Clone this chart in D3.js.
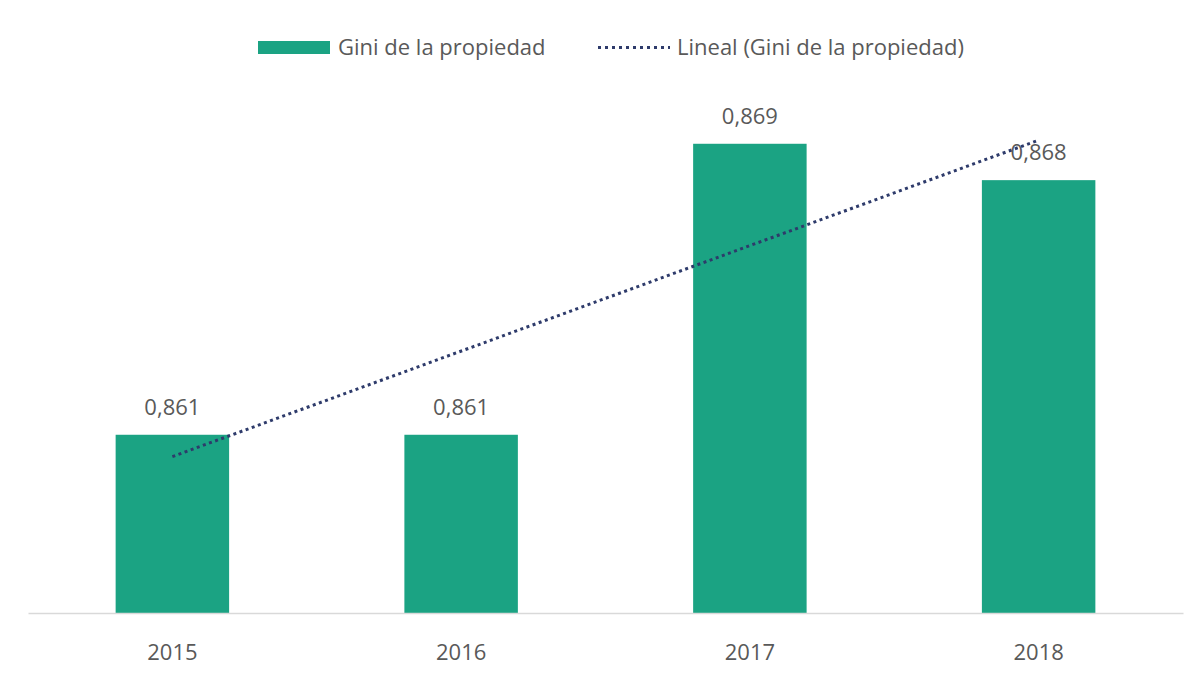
<!DOCTYPE html>
<html>
<head>
<meta charset="utf-8">
<script src="https://cdn.jsdelivr.net/npm/d3@7"></script>
<style>
  body { margin: 0; background: #fff; }
  svg text { font-family: "Open Sans", "Noto Sans", sans-serif; fill: #595959; }
</style>
</head>
<body>
<div id="chart"></div>
<script>
// data
const years = ["2015", "2016", "2017", "2018"];
const gini = [0.861, 0.861, 0.869, 0.868];
const seriesName = "Gini de la propiedad";
const trendName = "Lineal (Gini de la propiedad)";

const width = 1204, height = 677;
const barColor = "#1ba383";
const trendColor = "#2e3b6b";
const fontSize = "22px";

const svg = d3.select("#chart")
    .append("svg")
      .attr("width", width)
      .attr("height", height);

// scales
var x = d3.scaleBand()
    .domain(years)
    .range([28, 1183])
    .paddingInner(0.607)
    .paddingOuter(0.3035);

var y = d3.scaleLinear()
    .domain([0.8561, 0.87])
    .range([613, 107.4]);

// bars
svg.selectAll(".bar")
    .data(gini)
    .enter()
    .append("rect")
      .attr("class", "bar")
      .attr("x", (d, i) => x(years[i]))
      .attr("y", d => y(d))
      .attr("width", x.bandwidth())
      .attr("height", d => y.range()[0] - y(d))
      .style("fill", barColor);

// x axis (baseline + year labels)
var xAxis = svg.append("g")
    .attr("transform", "translate(0," + y.range()[0] + ")")
    .call(d3.axisBottom(x).tickSize(0).tickPadding(31));
xAxis.select(".domain").attr("stroke", "#d9d9d9").attr("stroke-width", 1.5);
xAxis.selectAll("text")
    .style("font-size", fontSize)
    .attr("fill", "#595959");

// value labels
svg.selectAll(".lbl")
    .data(gini)
    .enter()
    .append("text")
      .attr("class", "lbl")
      .attr("x", (d, i) => x(years[i]) + x.bandwidth() / 2)
      .attr("y", d => y(d) - 20)
      .attr("text-anchor", "middle")
      .style("font-size", fontSize)
      .text(d => d3.format(".3f")(d).replace(".", ","));

// linear trend (least squares over index 1..n)
var n = gini.length;
var xs = d3.range(1, n + 1);
var mx = d3.mean(xs), my = d3.mean(gini);
var slope = d3.sum(xs, (v, i) => (v - mx) * (gini[i] - my)) / d3.sum(xs, v => (v - mx) * (v - mx));
var icpt = my - slope * mx;
var trend = [0, n - 1].map(i => ({ yr: years[i], v: icpt + slope * xs[i] }));

svg.append("path")
    .datum(trend)
    .attr("d", d3.line()
        .x(d => x(d.yr) + x.bandwidth() / 2)
        .y(d => y(d.v)))
    .attr("fill", "none")
    .attr("stroke", trendColor)
    .attr("stroke-width", 3)
    .attr("stroke-dasharray", "3,3.5");

// legend
var legend = svg.append("g");
legend.append("rect")
    .attr("x", 258).attr("y", 41)
    .attr("width", 72).attr("height", 13)
    .style("fill", barColor);
legend.append("text")
    .attr("x", 338).attr("y", 55)
    .style("font-size", fontSize)
    .text(seriesName);
legend.append("line")
    .attr("x1", 598).attr("x2", 670)
    .attr("y1", 47.5).attr("y2", 47.5)
    .attr("stroke", trendColor)
    .attr("stroke-width", 3)
    .attr("stroke-dasharray", "3,4");
legend.append("text")
    .attr("x", 677).attr("y", 55)
    .style("font-size", fontSize)
    .text(trendName);
</script>
</body>
</html>
